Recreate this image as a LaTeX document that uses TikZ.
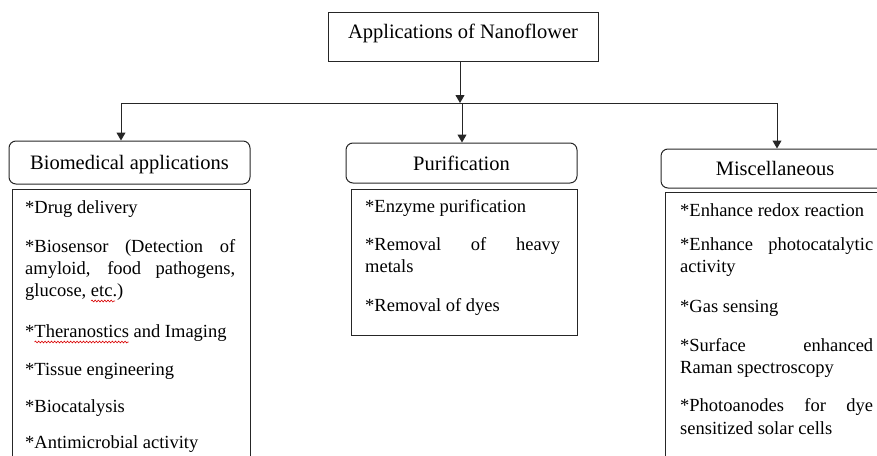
\documentclass[tikz,border=0pt]{standalone}
\usepackage{fontspec}
\setmainfont{Liberation Serif}
\usetikzlibrary{arrows.meta,decorations.pathmorphing,calc}
\newcommand\cfont{\fontsize{18.5}{22}\selectfont}
\newcommand\hfont{\fontsize{20.5}{24}\selectfont}
\newcommand\jline[2]{\makebox[#1][s]{#2}}
\begin{document}
\begin{tikzpicture}[x=1pt,y=-1pt,
  line/.style={draw=black!85, line width=1pt},
  arr/.style={line, -{Triangle[width=9pt,length=8pt]}},
  head/.style={line, rounded corners=7pt, inner sep=0pt, text height=14pt, text depth=0pt, font=\hfont},
  cbox/.style={line, inner sep=0pt, anchor=north west},
  item/.style={anchor=base west, inner sep=0pt, font=\cfont},
  squig/.style={draw=red!85!black, line width=0.6pt, decorate, decoration={snake, amplitude=0.9pt, segment length=3.2pt}}]
\useasboundingbox (0,0) rectangle (877,455);
\clip (0,0) rectangle (877,455);

% title
\node[line, minimum width=270pt, minimum height=49pt, inner sep=0pt,
      text height=14pt, text depth=10pt, font=\hfont] (title) at (463,36.5) {Applications of Nanoflower};

% headers
\node[head, minimum width=241pt, minimum height=43pt] (bioh) at (129.5,162.5) {Biomedical applications};
\node[head, minimum width=231pt, minimum height=40pt] (purh) at (461.5,163) {Purification};
\node[head, minimum width=228pt, minimum height=39pt] (misch) at (775,168.5) {Miscellaneous};

% content boxes
\node[cbox, minimum width=238pt, minimum height=290pt] (bioc) at (12,189) {};
\node[cbox, minimum width=226pt, minimum height=146pt] (purc) at (351,189) {};
\node[cbox, minimum width=240pt, minimum height=290pt] (misc) at (665,192) {};

% connectors
\coordinate (jl) at (121,103);
\coordinate (jm) at (462,103);
\coordinate (jr) at (777,103);
\coordinate (ts) at ([xshift=-3pt]title.south);
\draw[line] (jl) -- (jr);
\draw[arr] (ts) -- (ts |- jm);
\draw[arr] (jl) -- (jl |- bioh.north);
\draw[arr] (jm) -- (jm |- purh.north);
\draw[arr] (jr) -- (jr |- misch.north);

% biomedical items
\node[item] (b1) at (25,213) {*Drug delivery};
\node[item] (b2a) at (25,252) {\jline{210pt}{*Biosensor (Detection of}};
\node[item] (b2b) at (25,274) {\jline{210pt}{amyloid, food pathogens,}};
\node[item] (b2c) at (25,296) {glucose, etc.)};
\node[item] (b3) at (25,337) {*Theranostics and Imaging};
\node[item] (b4) at (25,375) {*Tissue engineering};
\node[item] (b5) at (25,412) {*Biocatalysis};
\node[item] (b6) at (25,448) {*Antimicrobial activity};
\draw[squig] ($(b2c.base west)+(66,5)$) -- ++(24,0);
\draw[squig] ($(b3.base west)+(9.5,5)$) -- ++(94,0);

% purification items
\node[item] (p1) at (365,212) {*Enzyme purification};
\node[item] (p2a) at (365,250) {\jline{195pt}{*Removal of heavy}};
\node[item] (p2b) at (365,272) {metals};
\node[item] (p3) at (365,311) {*Removal of dyes};

% miscellaneous items
\node[item] (m1) at (680,216) {*Enhance redox reaction};
\node[item] (m2a) at (680,250) {\jline{193pt}{*Enhance photocatalytic}};
\node[item] (m2b) at (680,272) {activity};
\node[item] (m3) at (680,312) {*Gas sensing};
\node[item] (m4a) at (680,351) {\jline{193pt}{*Surface enhanced}};
\node[item] (m4b) at (680,373) {Raman spectroscopy};
\node[item] (m5a) at (680,411) {\jline{193pt}{*Photoanodes for dye}};
\node[item] (m5b) at (680,434) {sensitized solar cells};
\end{tikzpicture}
\end{document}
